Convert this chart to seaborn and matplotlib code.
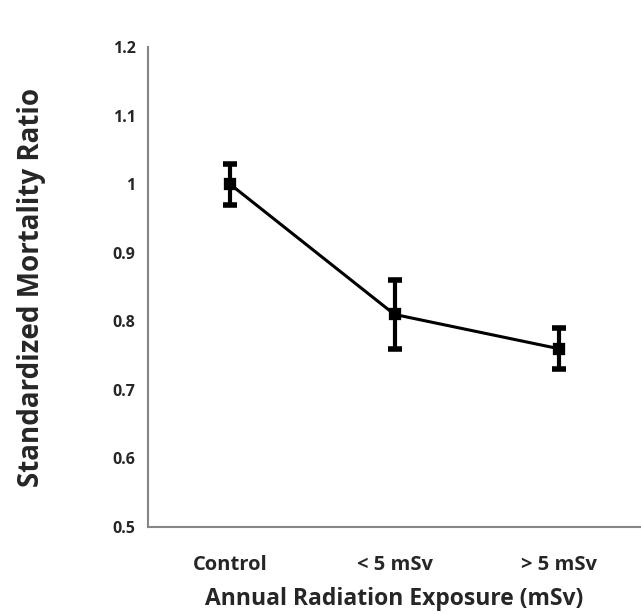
import numpy as np
import pandas as pd
import matplotlib
matplotlib.use("Agg")
import matplotlib.pyplot as plt
import seaborn as sns

# values
groups = ['Control', '< 5 mSv', '> 5 mSv']
smr = [1.00, 0.81, 0.76]
lower = [0.97, 0.76, 0.73]
upper = [1.03, 0.86, 0.79]
yticks = [0.5, 0.6, 0.7, 0.8, 0.9, 1.0, 1.1, 1.2]
ytick_labels = ['0.5', '0.6', '0.7', '0.8', '0.9', '1', '1.1', '1.2']

sns.set_style('white')
plt.rcParams['font.family'] = ['Open Sans', 'DejaVu Sans']

df = pd.DataFrame({'group': groups, 'smr': smr})

fig = plt.figure(figsize=(6.41, 6.14), dpi=100)
ax = fig.add_axes([0.231, 0.142, 0.769, 0.781])

sns.pointplot(data=df, x='group', y='smr', color='black', markers='s',
              errorbar=None, markersize=7.5, linewidth=2.2, ax=ax)

pos = np.arange(len(groups))
err = [np.array(smr) - np.array(lower), np.array(upper) - np.array(smr)]
ax.errorbar(pos, smr, yerr=err, fmt='none', ecolor='black', elinewidth=3,
            capsize=5, capthick=4, zorder=5)

ax.set_xlim(-0.5, len(groups) - 0.5)
ax.set_ylim(0.5, 1.2)
ax.set_yticks(yticks)
ax.set_yticklabels(ytick_labels, fontsize=11.5, fontweight='bold')

# category labels centred, tick marks at category boundaries
ax.set_xticks(pos)
ax.set_xticklabels(groups, fontsize=14.5, fontweight='bold')
ax.tick_params(axis='x', length=0, pad=20)
ax.set_xticks(np.arange(len(groups) + 1) - 0.5, minor=True)
ax.tick_params(axis='x', which='minor', length=6, width=1.5, color='#868686', direction='out')
ax.tick_params(axis='y', length=5, width=1.2, color='#868686', direction='out', pad=4)

for s in ['top', 'right']:
    ax.spines[s].set_visible(False)
for s in ['left', 'bottom']:
    ax.spines[s].set_color('#868686')
    ax.spines[s].set_linewidth(1.5)

ax.set_xlabel('Annual Radiation Exposure (mSv)', fontsize=16.5, fontweight='bold', labelpad=9)
ax.set_ylabel('Standardized Mortality Ratio', fontsize=20, fontweight='bold', labelpad=48)

fig.savefig('out.png', dpi=100)
